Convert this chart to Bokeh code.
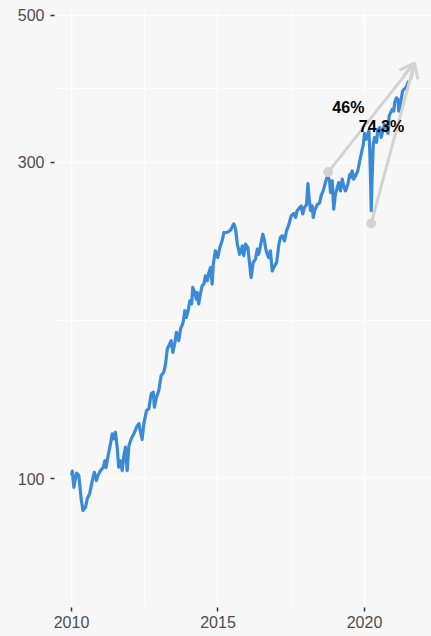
from bokeh.plotting import figure
from bokeh.models import (ColumnDataSource, FixedTicker, PrintfTickFormatter,
                          Arrow, OpenHead, LabelSet, Range1d)
from bokeh.core.properties import value
from bokeh.embed import file_html
from bokeh.resources import INLINE

# ---- data ----
years = [
    2010.00, 2010.03, 2010.08, 2010.17, 2010.25, 2010.33, 2010.39, 2010.48, 2010.54, 2010.62,
    2010.71, 2010.78, 2010.85, 2010.90, 2010.99, 2011.08, 2011.14, 2011.18, 2011.24, 2011.33,
    2011.39, 2011.44, 2011.50, 2011.56, 2011.61, 2011.67, 2011.73, 2011.78, 2011.84, 2011.90,
    2011.96, 2012.04, 2012.13, 2012.22, 2012.30, 2012.41, 2012.47, 2012.56, 2012.64, 2012.72,
    2012.79, 2012.83, 2012.90, 2012.98, 2013.06, 2013.15, 2013.21, 2013.27, 2013.35, 2013.40,
    2013.46, 2013.53, 2013.58, 2013.66, 2013.72, 2013.81, 2013.87, 2013.92, 2013.98, 2014.04,
    2014.10, 2014.14, 2014.20, 2014.26, 2014.29, 2014.34, 2014.40, 2014.46, 2014.52, 2014.57,
    2014.63, 2014.69, 2014.74, 2014.80, 2014.84, 2014.91, 2014.99, 2015.06, 2015.14, 2015.20,
    2015.31, 2015.43, 2015.54, 2015.60, 2015.66, 2015.74, 2015.83, 2015.88, 2015.94, 2016.02,
    2016.08, 2016.13, 2016.20, 2016.28, 2016.34, 2016.39, 2016.45, 2016.53, 2016.59, 2016.62,
    2016.68, 2016.73, 2016.79, 2016.85, 2016.90, 2017.00, 2017.08, 2017.13, 2017.19, 2017.27,
    2017.34, 2017.42, 2017.50, 2017.59, 2017.65, 2017.70, 2017.79, 2017.84, 2017.89, 2017.95,
    2018.02, 2018.07, 2018.11, 2018.16, 2018.22, 2018.25, 2018.30, 2018.39, 2018.47, 2018.52,
    2018.59, 2018.65, 2018.70, 2018.75, 2018.81, 2018.84, 2018.90, 2018.95, 2019.01, 2019.07,
    2019.12, 2019.18, 2019.24, 2019.29, 2019.35, 2019.43, 2019.50, 2019.52, 2019.58, 2019.63,
    2019.69, 2019.77, 2019.84, 2019.90, 2019.96, 2020.00, 2020.06, 2020.09, 2020.15, 2020.18,
    2020.20, 2020.23, 2020.26, 2020.30, 2020.34, 2020.41, 2020.45, 2020.52, 2020.57, 2020.64,
    2020.68, 2020.74, 2020.80, 2020.84, 2020.89, 2020.95, 2021.00, 2021.03, 2021.09, 2021.14,
    2021.17, 2021.20, 2021.25, 2021.30, 2021.34, 2021.40, 2021.46, 2021.51,
]
values = [
    101.0, 102.6, 97.0, 101.9, 101.0, 93.2, 89.5, 90.5, 93.3, 94.9,
    99.3, 102.2, 99.3, 101.0, 102.8, 103.9, 106.4, 103.9, 107.7, 112.8,
    116.8, 114.8, 117.4, 111.5, 104.0, 106.4, 102.8, 107.7, 111.5, 102.8,
    112.1, 114.8, 116.8, 119.5, 121.0, 114.5, 121.0, 126.6, 127.4, 134.2,
    135.0, 128.1, 132.6, 135.8, 143.0, 144.6, 148.9, 156.8, 159.6, 161.4,
    155.0, 160.5, 166.1, 161.4, 168.0, 172.0, 179.1, 175.0, 179.1, 185.4,
    183.4, 194.2, 190.9, 186.5, 190.9, 183.4, 189.8, 195.4, 196.5, 202.1,
    198.7, 204.4, 208.0, 196.5, 210.5, 220.5, 215.4, 223.0, 228.3, 235.0,
    235.0, 237.0, 242.2, 237.9, 225.7, 217.9, 224.3, 216.9, 225.7, 223.0,
    210.5, 201.0, 211.7, 214.2, 221.8, 217.9, 224.3, 233.6, 228.3, 223.0,
    217.9, 215.4, 220.5, 205.6, 208.0, 211.7, 225.7, 231.1, 232.5, 228.3,
    236.5, 241.7, 249.1, 251.1, 247.7, 253.5, 256.2, 257.7, 250.6, 256.2,
    259.0, 278.5, 265.3, 253.5, 257.7, 247.7, 253.5, 259.0, 260.5, 267.2,
    271.5, 277.9, 282.8, 286.0, 281.2, 270.0, 281.2, 254.9, 268.7, 274.7,
    279.5, 271.5, 282.8, 276.3, 271.5, 277.9, 287.6, 284.4, 291.0, 282.8,
    286.0, 291.0, 301.8, 310.2, 319.1, 331.7, 325.0, 328.7, 334.6, 311.9,
    291.0, 253.5, 284.4, 319.1, 326.9, 321.4, 334.6, 338.3, 326.9, 336.5,
    342.1, 340.2, 331.7, 352.1, 356.3, 360.4, 358.3, 368.9, 375.2, 373.1,
    358.3, 362.2, 373.1, 384.0, 386.3, 388.3, 392.6, 397.8,
]

start_years = [2018.76, 2020.23]
start_values = [289.9, 242.6]
end_years = [2021.71, 2021.71]
end_values = [423.5, 423.5]
label_years = [2019.45, 2020.58]
label_values = [362.5, 339.1]
labels = ["46%", "74.3%"]

x_ticks = [2010, 2015, 2020]
x_minor = [2012.5, 2017.5]
y_ticks = [100, 300, 500]
y_minor = [173.2, 387.3]

BG = "#f7f7f7"
FONT = "Liberation Sans"

p = figure(width=431, height=636, y_axis_type="log",
           x_range=Range1d(2009.42, 2022.287), y_range=Range1d(63.9, 511.6),
           output_backend="svg", toolbar_location=None,
           min_border_left=54, min_border_right=0, min_border_top=8, min_border_bottom=29,
           background_fill_color=BG, border_fill_color=BG, outline_line_color=None)

p.xaxis.ticker = FixedTicker(ticks=x_ticks, minor_ticks=x_minor)
p.yaxis.ticker = FixedTicker(ticks=y_ticks, minor_ticks=y_minor)
p.xgrid.ticker = p.xaxis[0].ticker
p.ygrid.ticker = p.yaxis[0].ticker
p.yaxis.formatter = PrintfTickFormatter(format="%d")
p.xaxis.formatter = PrintfTickFormatter(format="%d")

for ax in (p.xaxis[0], p.yaxis[0]):
    ax.axis_line_color = None
    ax.major_tick_line_color = "#333333"
    ax.major_tick_line_width = 1.5
    ax.major_tick_in = 0
    ax.major_tick_out = 4
    ax.minor_tick_line_color = None
    ax.major_label_text_font = FONT
    ax.major_label_text_font_size = "16px"
    ax.major_label_text_color = "#4d4d4d"
p.yaxis.major_label_standoff = 6
p.xaxis.major_label_standoff = 4

p.grid.grid_line_color = "white"
p.grid.grid_line_width = 1.6
p.grid.minor_grid_line_color = "white"
p.grid.minor_grid_line_width = 0.8

p.line(years, values, line_color="#3a8ad8", line_width=3.2, line_join="round")

GRAY = "#d3d3d3"
p.scatter(start_years, start_values, size=9, color=GRAY)
arrow_src = ColumnDataSource(dict(x0=start_years, y0=start_values, x1=end_years, y1=end_values))
p.add_layout(Arrow(end=OpenHead(size=15, line_color=GRAY, line_width=3),
                   x_start="x0", y_start="y0", x_end="x1", y_end="y1",
                   source=arrow_src, line_color=GRAY, line_width=3))

lab_src = ColumnDataSource(dict(x=label_years, y=label_values, t=labels))
p.add_layout(LabelSet(x="x", y="y", text="t", source=lab_src,
                      text_align="center", text_baseline="middle",
                      text_font=value(FONT), text_font_style="bold",
                      text_font_size="16px", text_color="black"))

html = file_html(p, INLINE)
html = html.replace("<head>", "<head><style>html,body{margin:0;padding:0;background:#f7f7f7;overflow:hidden;}</style>", 1)
open("out.html", "w").write(html)
